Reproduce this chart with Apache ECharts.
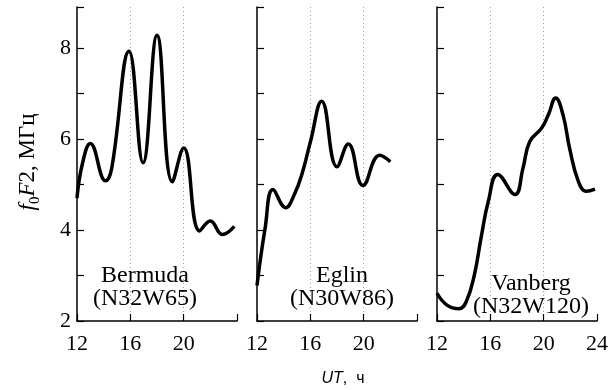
<!DOCTYPE html>
<html>
<head>
<meta charset="utf-8">
<script src="https://cdn.jsdelivr.net/npm/echarts@6/dist/echarts.min.js"></script>
<style>
    html, body { margin: 0; padding: 0; background: #fff; }
    #chart { width: 614px; height: 390px; }
</style>
</head>
<body>
<div id="chart"></div>
<script>
// станции
const stations = ['Bermuda', 'Eglin', 'Vanberg'];
const stationCoords = ['(N32W65)', '(N30W86)', '(N32W120)'];

// UT, ч и foF2, МГц
const bermudaHours = [12.0, 12.4, 13.0, 14.15, 14.6, 15.9, 16.95, 18.0, 19.15, 20.0, 21.2, 22.0, 22.9, 23.8];
const bermudaValues = [4.7, 5.45, 5.9, 5.08, 5.35, 7.93, 5.48, 8.28, 5.06, 5.8, 3.98, 4.2, 3.9, 4.08];

const eglinHours = [12.0, 12.6, 13.2, 14.15, 14.8, 15.4, 16.0, 16.85, 18.0, 18.85, 19.95, 21.2, 22.0];
const eglinValues = [2.78, 4.02, 4.89, 4.49, 4.78, 5.26, 5.93, 6.83, 5.39, 5.89, 4.98, 5.64, 5.5];

const vanbergHours = [12.0, 12.75, 13.65, 14.2, 14.8, 15.3, 15.85, 16.55, 17.85, 18.45, 18.95, 19.85, 20.35, 20.9, 21.45, 21.95, 22.6, 23.2, 23.85];
const vanbergValues = [2.61, 2.35, 2.27, 2.43, 3.01, 3.82, 4.63, 5.22, 4.78, 5.36, 5.94, 6.24, 6.53, 6.9, 6.53, 5.79, 5.07, 4.85, 4.9];

// шкалы
const xTicks = [12, 16, 20, 24];
const yTicks = [2, 4, 6, 8];

const hours = [bermudaHours, eglinHours, vanbergHours];
const values = [bermudaValues, eglinValues, vanbergValues];

const serif = 'Liberation Serif';
const gridLefts = [77, 257, 437];

const chart = echarts.init(document.getElementById('chart'));

const grids = gridLefts.map(l => ({ left: l, top: 7, width: 160, height: 314 }));

const xAxes = gridLefts.map((l, i) => ({
    type: 'value',
    gridIndex: i,
    min: xTicks[0],
    max: xTicks[xTicks.length - 1],
    interval: 4,
    axisLine: { lineStyle: { color: '#000', width: 1.5 } },
    axisTick: { inside: true, length: 7, lineStyle: { color: '#000', width: 1.2 } },
    axisLabel: {
        color: '#000',
        fontFamily: serif,
        fontSize: 22,
        margin: 12,
        formatter: v => (i < 2 && v === 24) ? '' : String(v)
    },
    splitLine: {
        show: true,
        showMinLine: false,
        showMaxLine: false,
        lineStyle: { color: '#a0a0a0', type: [1, 3], width: 1 }
    }
}));

const yAxes = gridLefts.map((l, i) => ({
    type: 'value',
    gridIndex: i,
    min: 2,
    max: 8.9,
    interval: 1,
    axisLine: { show: true, lineStyle: { color: '#000', width: 1.5 } },
    axisTick: { show: true, inside: true, length: 7, lineStyle: { color: '#000', width: 1.2 } },
    axisLabel: {
        show: i === 0,
        color: '#000',
        fontFamily: serif,
        fontSize: 22,
        margin: 6,
        formatter: v => yTicks.includes(v) ? String(v) : ''
    },
    splitLine: { show: false }
}));

const series = stations.map((name, i) => ({
    name: name,
    type: 'line',
    xAxisIndex: i,
    yAxisIndex: i,
    data: hours[i].map((h, k) => [h, values[i][k]]),
    smooth: 0.45,
    showSymbol: false,
    lineStyle: { color: '#000', width: 3.5 },
    z: 3
}));

// подписи станций
const labelPos = [[145, 287], [342, 287], [531, 295]];
const stationLabels = stations.map((name, i) => ({
    type: 'text',
    x: labelPos[i][0],
    y: labelPos[i][1],
    style: {
        text: name + '\n' + stationCoords[i],
        fill: '#000',
        font: '24px "Liberation Serif"',
        lineHeight: 23,
        align: 'center',
        verticalAlign: 'middle'
    },
    z: 10
}));

const option = {
    animation: false,
    grid: grids,
    xAxis: xAxes,
    yAxis: yAxes,
    series: series,
    graphic: [
        ...stationLabels,
        {
            type: 'text',
            x: 28,
            y: 162,
            rotation: Math.PI / 2,
            style: {
                text: '{i|f}{sub|0}{i|F}{n|2, МГц}',
                align: 'center',
                verticalAlign: 'middle',
                fill: '#000',
                rich: {
                    i: { fontFamily: serif, fontSize: 23, fontStyle: 'italic', lineHeight: 30, verticalAlign: 'middle' },
                    n: { fontFamily: serif, fontSize: 23, lineHeight: 30, verticalAlign: 'middle' },
                    sub: { fontFamily: serif, fontSize: 15, lineHeight: 15, verticalAlign: 'bottom' }
                }
            }
        },
        {
            type: 'text',
            x: 343,
            y: 379,
            style: {
                text: '{i|UT}{n|,  ч}',
                align: 'center',
                verticalAlign: 'middle',
                fill: '#000',
                rich: {
                    i: { fontFamily: 'Liberation Sans', fontSize: 16, fontStyle: 'italic' },
                    n: { fontFamily: 'Liberation Sans', fontSize: 16 }
                }
            }
        }
    ]
};

chart.setOption(option);
</script>
</body>
</html>
